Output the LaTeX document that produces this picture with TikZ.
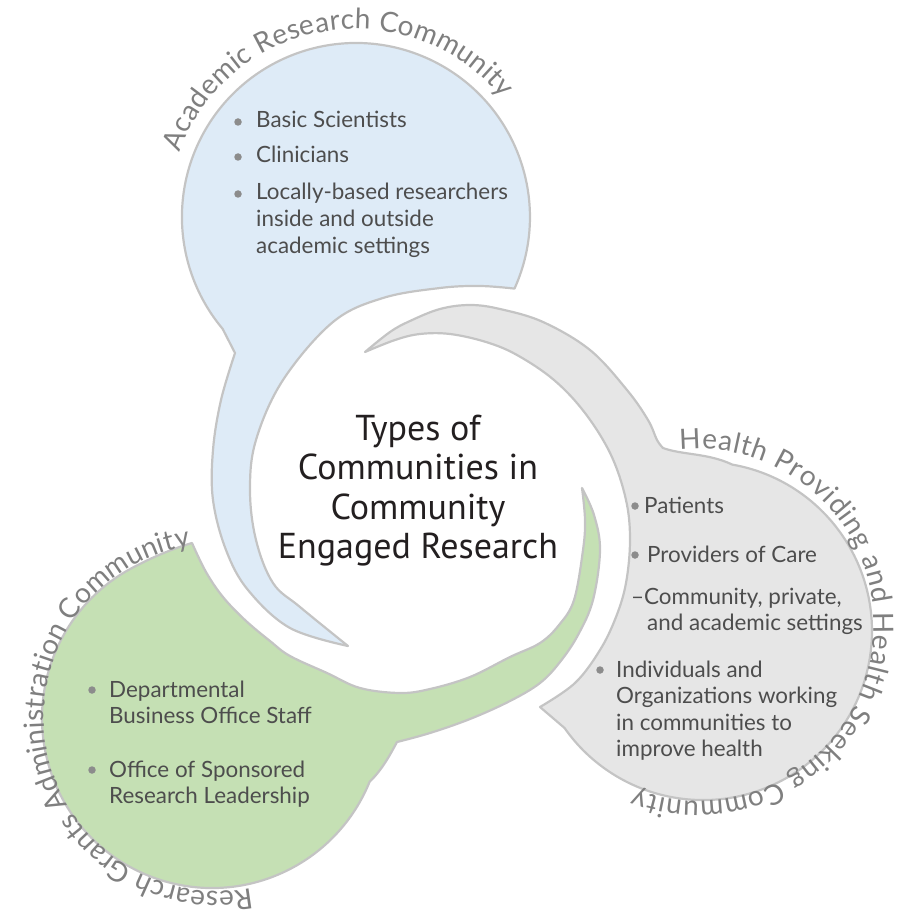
\documentclass[tikz,border=0pt]{standalone}
\usepackage{fontspec}
\setmainfont{Lato}
\newfontfamily\titlefont{PT Sans}
\usetikzlibrary{decorations.text}

\definecolor{blueFill}{HTML}{DEEBF7}
\definecolor{grayFill}{HTML}{E6E6E6}
\definecolor{greenFill}{HTML}{C5E0B4}
\definecolor{edgeGray}{HTML}{C4C4C4}
\definecolor{listText}{HTML}{4D4D4D}
\definecolor{dotGray}{HTML}{8C8C8C}
\definecolor{arcText}{HTML}{7F7F7F}
\definecolor{titleInk}{HTML}{231F20}

\newcommand\listfont{\fontsize{22.4}{26.5}\selectfont}
\newcommand\arcfont{\fontsize{28}{28}\selectfont}
\newcommand\headfont{\titlefont\fontsize{36}{39.5}\selectfont}

\begin{document}
\begin{tikzpicture}[x=1pt, y=-1pt,
  bubble/.style={draw=edgeGray, line width=2.2pt, line join=round},
  item/.style={anchor=base west, inner sep=0pt, text=listText, font=\listfont},
  dot/.style={circle, fill=dotGray, inner sep=0pt, minimum size=7.5pt},
  headline/.style={anchor=base, inner sep=0pt, text=titleInk, font=\headfont},
]
\useasboundingbox (0,0) rectangle (898,917);

% ---------- academic research bubble (blue) ----------
\draw[bubble, fill=blueFill] (514.5,288.6)
  arc[start angle=24.3, end angle=-220, radius=174]
  -- (235,353)
  -- plot[smooth, tension=0.6] coordinates {(235,353) (221,400) (213,450) (213,500) (226,550) (248,590) (290,628) (348,646)}
  -- plot[smooth, tension=0.6] coordinates {(348,646) (300,607) (273,583) (256,540) (250,490) (256,440) (283,380) (333,322) (383,298) (440,288) (480,286) (514.5,288.6)}
  -- cycle;

% ---------- health providing / seeking bubble (gray) ----------
\draw[bubble, fill=grayFill] (663,448)
  .. controls (682,455) and (708,453) .. (732.3,464.6)
  arc[start angle=-80, end angle=145, radius=169]
  -- (540,707)
  -- plot[smooth, tension=0.6] coordinates {(540,707) (575,683) (600,650) (616,617) (626,583) (630,540) (626,500) (611,455) (585,413) (554,380) (517,355) (486,342) (450,334) (420,334) (395,340) (365,352)}
  -- plot[smooth, tension=0.6] coordinates {(365,352) (390,332) (410,321) (440,309) (470,305) (500,309) (543,322) (590,350) (627,390) (648,420) (657,440) (663,448)}
  -- cycle;

% ---------- research grants administration bubble (green) ----------
\draw[bubble, fill=greenFill] (192,543)
  .. controls (175,548) and (155,556) .. (137.5,565.2)
  arc[start angle=-116, end angle=-338, radius=170]
  .. controls (382,770) and (390,755) .. (397,742)
  -- plot[smooth, tension=0.6] coordinates {(397,742) (430,733) (470,719) (510,701) (540,683) (560,662) (578,635) (593,600) (600,550) (594,515) (582,488)}
  -- plot[smooth, tension=0.6] coordinates {(582,488) (585,520) (583,550) (574,600) (559,625) (540,643) (510,657) (470,677) (430,689) (400,693) (360,688) (327,673) (290,656) (270,641) (245,620) (223,597) (206,572) (192,543)}
  -- cycle;

% ---------- curved community names ----------
\path[decorate, decoration={text along path, text align=fit to path, text color=arcText,
    text={|\arcfont|Academic Research Community}}]
  (179.3,152.7) arc[start angle=200, end angle=321, radius=188];
\path[decorate, decoration={text along path, text align=fit to path, text color=arcText,
    text={|\arcfont|Health Providing and Health Seeking Community}}]
  (679.6,450.0) arc[start angle=264, end angle=471, radius=176];
\path[decorate, decoration={text along path, text align=fit to path, text color=arcText,
    text={|\arcfont|Research Grants Administration Community}}]
  (251.2,888.2) arc[start angle=79, end angle=261, radius=174];

% ---------- centre heading ----------
\node[headline] (h1) at (418,440) {Types of};
\node[headline] (h2) at (418,479.5) {Communities in};
\node[headline] (h3) at (418,519) {Community};
\node[headline] (h4) at (418,558) {Engaged Research};

% ---------- academic list ----------
\node[dot] (ad1) at (238,122) {};
\node[item] (a1) at (256,128) {Basic Scientists};
\node[dot] (ad2) at (238,157) {};
\node[item] (a2) at (256,163) {Clinicians};
\node[dot] (ad3) at (238,194) {};
\node[item] (a3) at (256,200) {Locally-based researchers};
\node[item] (a4) at (256,226.5) {inside and outside};
\node[item] (a5) at (256,253) {academic settings};

% ---------- health list ----------
\node[dot] (hd1) at (635,506) {};
\node[item] (p1) at (644,513) {Patients};
\node[dot] (hd2) at (635,555) {};
\node[item] (p2) at (647,562) {Providers of Care};
\node[item] (p3) at (631,604) {–Community, private,};
\node[item] (p4) at (647,630.5) {and academic settings};
\node[dot] (hd3) at (600,670) {};
\node[item] (p5) at (616,677) {Individuals and};
\node[item] (p6) at (616,703.5) {Organizations working};
\node[item] (p7) at (616,730) {in communities to};
\node[item] (p8) at (616,756.5) {improve health};

% ---------- administration list ----------
\node[dot] (gd1) at (92,690) {};
\node[item] (r1) at (109,697) {Departmental};
\node[item] (r2) at (109,723.5) {Business Office Staff};
\node[dot] (gd2) at (92,770) {};
\node[item] (r3) at (109,777) {Office of Sponsored};
\node[item] (r4) at (109,803.5) {Research Leadership};
\end{tikzpicture}
\end{document}
